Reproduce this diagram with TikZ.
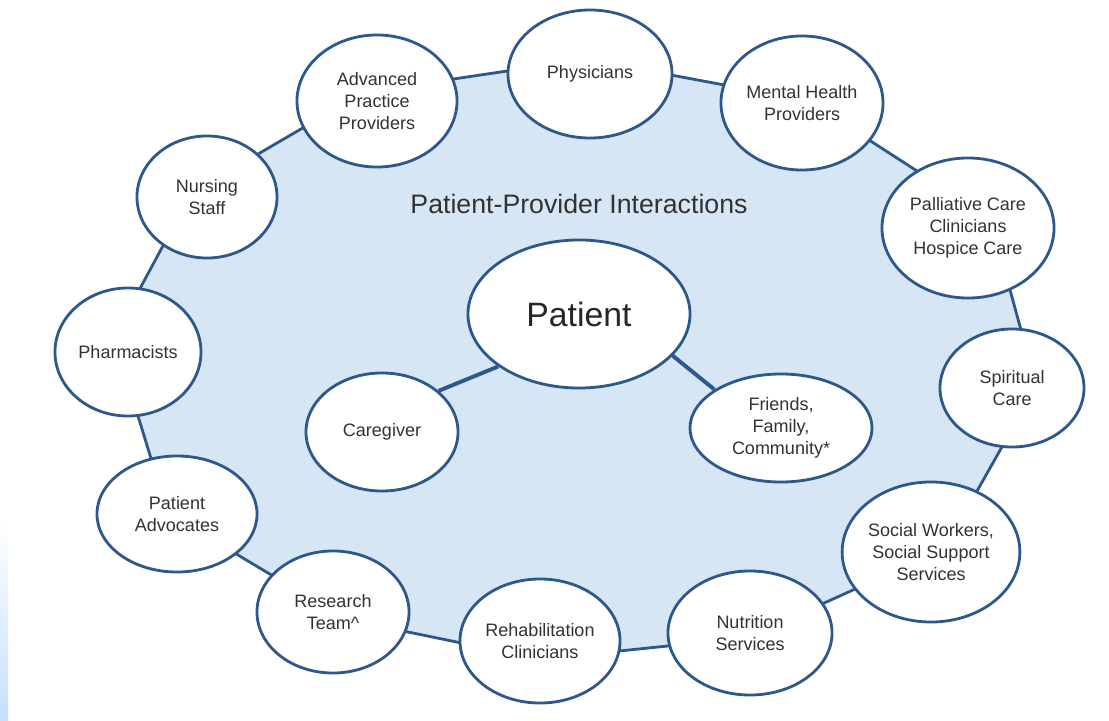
\documentclass[tikz,border=0pt]{standalone}
\usepackage{fontspec}
\setmainfont{Liberation Sans}
\usepackage{xcolor}
\usepackage{tikz}
\usetikzlibrary{shapes.geometric,backgrounds}
\definecolor{linkblue}{RGB}{45,88,140}
\definecolor{fieldblue}{RGB}{214,230,245}
\definecolor{edgeblue}{RGB}{196,224,250}
\definecolor{inkgray}{RGB}{50,50,50}
\tikzset{
  member/.style={ellipse, draw=linkblue, line width=2pt, fill=white, align=center, inner sep=0pt, text=inkgray, font=\fontsize{12.8}{15.6}\selectfont},
  hub/.style={member, text=black!85, font=\fontsize{24}{28}\selectfont},
  ring/.style={draw=linkblue, line width=2pt, fill=fieldblue, line join=round},
  spoke/.style={draw=linkblue, line width=2.8pt}
}

\begin{document}
\begin{tikzpicture}[x=0.025cm, y=-0.025cm]
  \useasboundingbox (0,0) rectangle (1109,721);
  \shade[top color=white, bottom color=edgeblue] (0,520) rectangle (8,721);

  \node[member, minimum width=3.5cm, minimum height=3.05cm] (nurse) at (207,197) {Nursing\\Staff};
  \node[member, minimum width=4.0cm, minimum height=3.3cm] (adv) at (377,101) {Advanced\\Practice\\Providers};
  \node[member, minimum width=4.1cm, minimum height=3.2cm] (phys) at (590,74) {Physicians};
  \node[member, minimum width=4.05cm, minimum height=3.35cm] (mental) at (802,103) {Mental Health\\Providers};
  \node[member, minimum width=4.3cm, minimum height=3.5cm] (pall) at (968,228) {Palliative Care\\Clinicians\\Hospice Care};
  \node[member, minimum width=3.6cm, minimum height=2.95cm] (spirit) at (1012,388) {Spiritual\\Care};
  \node[member, minimum width=4.05cm, minimum height=3.5cm] (social) at (931,552) {Social Workers,\\Social Support\\Services};
  \node[member, minimum width=4.1cm, minimum height=3.1cm] (nutri) at (750,633) {Nutrition\\Services};
  \node[member, minimum width=4.0cm, minimum height=3.1cm] (rehab) at (540,641) {Rehabilitation\\Clinicians};
  \node[member, minimum width=3.8cm, minimum height=3.05cm] (research) at (333,612) {Research\\Team\textasciicircum};
  \node[member, minimum width=4.0cm, minimum height=2.9cm] (advoc) at (177,514) {Patient\\Advocates};
  \node[member, minimum width=3.65cm, minimum height=3.2cm] (pharm) at (128,352) {Pharmacists};

  \node[hub, minimum width=5.55cm, minimum height=3.7cm] (patient) at (579,314) {Patient};
  \node[member, minimum width=3.8cm, minimum height=2.95cm] (care) at (382,432) {Caregiver};
  \node[member, minimum width=4.55cm, minimum height=2.7cm] (friends) at (781,428) {Friends,\\Family,\\Community*};

  \node[text=inkgray, font=\fontsize{19}{23}\selectfont] (title) at (579,204) {Patient-Provider Interactions};

  \begin{scope}[on background layer]
    \path[ring] (nurse.40) -- (adv.200) -- (adv.16) -- (phys.178) -- (phys.-1) -- (mental.167)
      -- (mental.331) -- (pall.132) -- (pall.304) -- (spirit.82) -- (spirit.260) -- (social.53)
      -- (social.206) -- (nutri.22) -- (nutri.189) -- (rehab.353) -- (rehab.181) -- (research.345)
      -- (research.149) -- (advoc.326) -- (advoc.115) -- (pharm.279) -- (pharm.79) -- (nurse.228) -- cycle;
    \draw[spoke] (patient.213) -- (care.36);
    \draw[spoke] (patient.336) -- (friends.150);
  \end{scope}
\end{tikzpicture}
\end{document}
